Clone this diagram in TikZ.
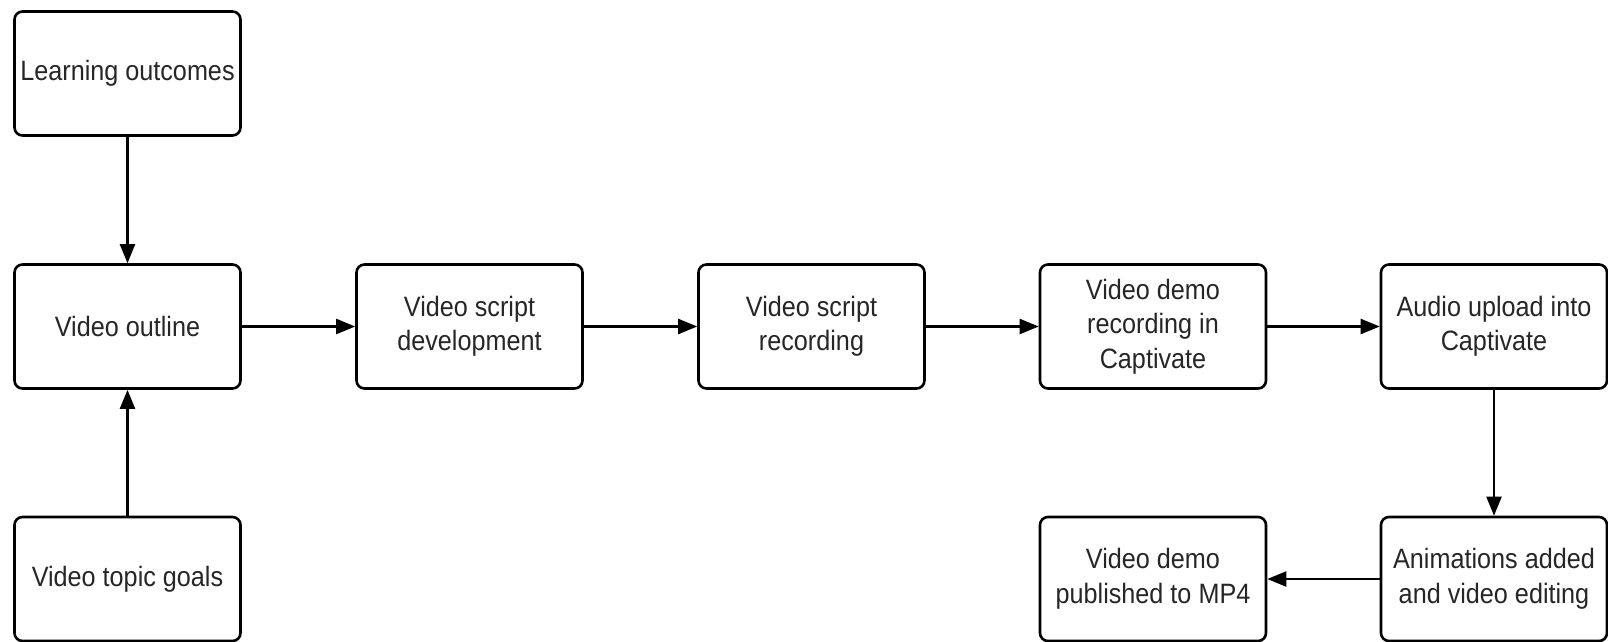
\documentclass[tikz,border=0pt]{standalone}
\usepackage{fontspec}
\setmainfont[FakeStretch=0.9]{Liberation Sans}
\usetikzlibrary{arrows.meta}
\begin{document}
\begin{tikzpicture}[x=1pt,y=-1pt,
  box/.style={draw=black, line width=2.6pt, rounded corners=8pt, fill=white,
    minimum width=226pt, minimum height=124pt, inner sep=0pt,
    align=center, text=black!85, font=\fontsize{28}{34.5}\selectfont},
  conn/.style={draw=black, line width=2.2pt, -{Triangle[length=19pt,width=15pt]}}]
\useasboundingbox (0,0) rectangle (1608,642);
\node[box] (lo)  at (127.5,73.5)  {Learning outcomes};
\node[box] (vo)  at (127.5,326.5) {Video outline};
\node[box] (vg)  at (127.5,579)   {Video topic goals};
\node[box] (sd)  at (469.5,326.5) {Video script\\development};
\node[box] (sr)  at (811.5,326.5) {Video script\\recording};
\node[box] (dr)  at (1153,326.5)  {Video demo\\recording in\\Captivate};
\node[box] (au)  at (1494,326.5)  {Audio upload into\\Captivate};
\node[box] (an)  at (1494,579)    {Animations added\\and video editing};
\node[box] (pub) at (1153,579)    {Video demo\\published to MP4};
\draw[conn] (lo) -- (vo);
\draw[conn] (vg) -- (vo);
\draw[conn] (vo) -- (sd);
\draw[conn] (sd) -- (sr);
\draw[conn] (sr) -- (dr);
\draw[conn] (dr) -- (au);
\draw[conn] (au) -- (an);
\draw[conn] (an) -- (pub);
\end{tikzpicture}
\end{document}
